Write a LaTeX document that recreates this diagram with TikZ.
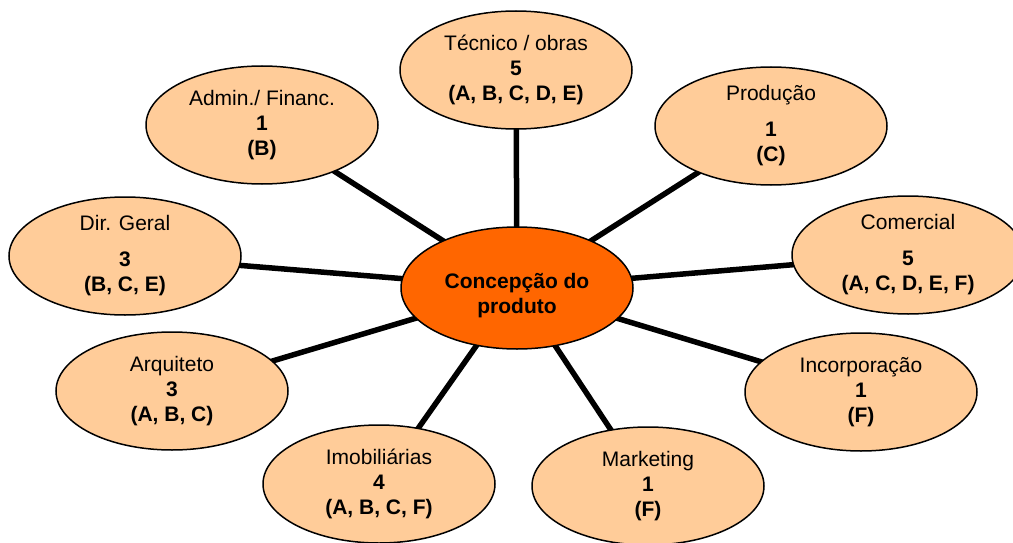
\documentclass[tikz,border=0pt]{standalone}
\usepackage{fontspec}
\setmainfont{Liberation Sans}
\usetikzlibrary{shapes.geometric,backgrounds}
\definecolor{peach}{HTML}{FFCC99}
\definecolor{hot}{HTML}{FF6600}
\begin{document}
\begin{tikzpicture}[x=1pt,y=-1pt,
  bubble/.style={ellipse,draw=black,line width=1.5pt,fill=peach,minimum width=232pt,minimum height=118pt,inner sep=0pt,align=center,font=\fontsize{21}{25}\selectfont},
  hub/.style={ellipse,draw=black,line width=1.5pt,fill=hot,minimum width=232pt,minimum height=122pt,inner sep=0pt},
  hubtext/.style={align=center,font=\fontsize{21}{25}\selectfont\bfseries,inner sep=0pt},
  spoke/.style={line width=5.5pt,black}]
\useasboundingbox (0,0) rectangle (1013,543);
\node[hub] (c) at (517,288) {};
\node[hubtext] (ct) at (517,295.5) {Concepção do\\produto};
\node[bubble] (tec) at (516,70) {Técnico / obras\\\textbf{5}\\\textbf{(A, B, C, D, E)}};
\node[bubble] (adm) at (262,125) {Admin./ Financ.\\\textbf{1}\\\textbf{(B)}};
\node[bubble] (pro) at (771,126) {Produção\\[11pt]\textbf{1}\\\textbf{(C)}};
\node[bubble] (dir) at (125,256) {Dir. Geral\\[11pt]\textbf{3}\\\textbf{(B, C, E)}};
\node[bubble] (com) at (908,255) {Comercial\\[11pt]\textbf{5}\\\textbf{(A, C, D, E, F)}};
\node[bubble] (arq) at (172,391) {Arquiteto\\\textbf{3}\\\textbf{(A, B, C)}};
\node[bubble] (inc) at (861,392) {Incorporação\\\textbf{1}\\\textbf{(F)}};
\node[bubble] (imo) at (379,484) {Imobiliárias\\\textbf{4}\\\textbf{(A, B, C, F)}};
\node[bubble] (mkt) at (648,486) {Marketing\\\textbf{1}\\\textbf{(F)}};
\begin{scope}[on background layer]
\foreach \n in {tec,adm,pro,dir,com,arq,inc,imo,mkt}{
  \draw[spoke] (c.center) -- (\n.center);
}
\end{scope}
\end{tikzpicture}
\end{document}
